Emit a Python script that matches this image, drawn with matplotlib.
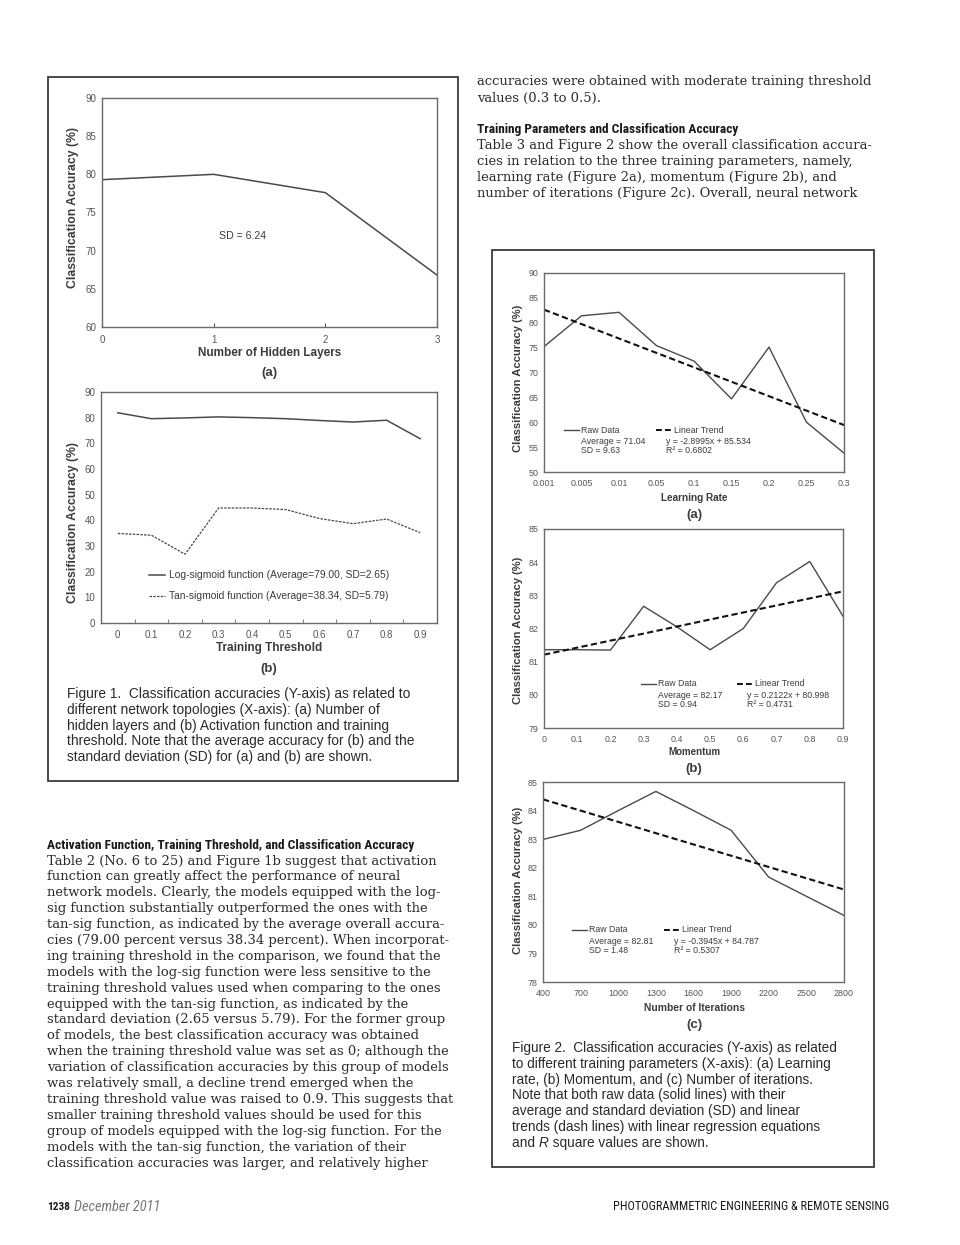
import numpy as np
import matplotlib
matplotlib.use("Agg")
import matplotlib.pyplot as plt
from matplotlib import font_manager
from matplotlib.lines import Line2D
from matplotlib.patches import Rectangle

W, H = 960, 1245

# ---- Figure 1a: hidden layers ----
hidden_layers = [0, 1, 2, 3]
hidden_acc = [79.3, 80.0, 77.6, 66.8]
hidden_sd = 6.24

# ---- Figure 1b: activation function / training threshold ----
thresholds = ["0", "0.1", "0.2", "0.3", "0.4", "0.5", "0.6", "0.7", "0.8", "0.9"]
logsig_acc = [81.9, 79.6, 79.9, 80.3, 80.0, 79.6, 78.9, 78.3, 79.0, 71.8]
tansig_acc = [34.9, 34.2, 26.8, 44.8, 44.8, 44.2, 40.7, 38.7, 40.5, 35.2]
logsig_stats = (79.00, 2.65)
tansig_stats = (38.34, 5.79)

# ---- Figure 2a: learning rate ----
learning_rates = ["0.001", "0.005", "0.01", "0.05", "0.1", "0.15", "0.2", "0.25", "0.3"]
lr_acc = [75.2, 81.4, 82.1, 75.4, 72.3, 64.7, 75.1, 60.0, 53.8]
lr_stats = (71.04, 9.63)
lr_fit = (-2.8995, 85.534, 0.6802)

# ---- Figure 2b: momentum ----
momentum = [0, 0.1, 0.2, 0.3, 0.4, 0.5, 0.6, 0.7, 0.8, 0.9]
mom_acc = [81.36, 81.36, 81.35, 82.67, 82.05, 81.36, 82.0, 83.38, 84.02, 82.37]
mom_stats = (82.17, 0.94)
mom_fit = (0.2122, 80.998, 0.4731)

# ---- Figure 2c: number of iterations ----
iterations = ["400", "700", "1000", "1300", "1600", "1900", "2200", "2500", "2800"]
iter_acc = [82.99, 83.31, 84.0, 84.67, 84.0, 83.31, 81.67, 81.0, 80.33]
iter_stats = (82.81, 1.48)
iter_fit = (-0.3945, 84.787, 0.5307)

# ---- page text ----
right_top_lines = [
    "accuracies were obtained with moderate training threshold",
    "values (0.3 to 0.5).",
]
right_heading = "Training Parameters and Classification Accuracy"
right_body_lines = [
    "Table 3 and Figure 2 show the overall classification accura-",
    "cies in relation to the three training parameters, namely,",
    "learning rate (Figure 2a), momentum (Figure 2b), and",
    "number of iterations (Figure 2c). Overall, neural network",
]
left_heading = "Activation Function, Training Threshold, and Classification Accuracy"
left_body_lines = [
    "Table 2 (No. 6 to 25) and Figure 1b suggest that activation",
    "function can greatly affect the performance of neural",
    "network models. Clearly, the models equipped with the log-",
    "sig function substantially outperformed the ones with the",
    "tan-sig function, as indicated by the average overall accura-",
    "cies (79.00 percent versus 38.34 percent). When incorporat-",
    "ing training threshold in the comparison, we found that the",
    "models with the log-sig function were less sensitive to the",
    "training threshold values used when comparing to the ones",
    "equipped with the tan-sig function, as indicated by the",
    "standard deviation (2.65 versus 5.79). For the former group",
    "of models, the best classification accuracy was obtained",
    "when the training threshold value was set as 0; although the",
    "variation of classification accuracies by this group of models",
    "was relatively small, a decline trend emerged when the",
    "training threshold value was raised to 0.9. This suggests that",
    "smaller training threshold values should be used for this",
    "group of models equipped with the log-sig function. For the",
    "models with the tan-sig function, the variation of their",
    "classification accuracies was larger, and relatively higher",
]
fig1_caption = [
    "Figure 1.  Classification accuracies (Y-axis) as related to",
    "different network topologies (X-axis): (a) Number of",
    "hidden layers and (b) Activation function and training",
    "threshold. Note that the average accuracy for (b) and the",
    "standard deviation (SD) for (a) and (b) are shown.",
]
fig2_caption = [
    "Figure 2.  Classification accuracies (Y-axis) as related",
    "to different training parameters (X-axis): (a) Learning",
    "rate, (b) Momentum, and (c) Number of iterations.",
    "Note that both raw data (solid lines) with their",
    "average and standard deviation (SD) and linear",
    "trends (dash lines) with linear regression equations",
]

SANS = "Liberation Sans"
SERIF = "DejaVu Serif"
names = {f.name for f in font_manager.fontManager.ttflist}
NARROW = "Liberation Sans Narrow" if "Liberation Sans Narrow" in names else "Roboto Condensed" if "Roboto Condensed" in names else SANS

plt.rcParams["font.family"] = [SANS, "DejaVu Sans"]

fig = plt.figure(figsize=(W / 100, H / 100), dpi=100)
fig.patch.set_facecolor("white")
renderer = fig.canvas.get_renderer()


def text_width(s, **kw):
    kw.pop("rotation", None)
    t = fig.text(0, 0, s, **kw)
    w = t.get_window_extent(renderer).width
    t.remove()
    return w


def put(x, y, s, size=None, width=None, ha="left", va="center", **kw):
    """Place text at page pixel position; optionally fit it to a width."""
    if width is not None:
        size = 10 * width / text_width(s, fontsize=10, **kw)
    return fig.text(x / W, 1 - y / H, s, fontsize=size, ha=ha, va=va, **kw)


def px_axes(x0, y0, x1, y1):
    return fig.add_axes([x0 / W, 1 - y1 / H, (x1 - x0) / W, (y1 - y0) / H])


def seg(x0, x1, y, **kw):
    fig.add_artist(Line2D([x0 / W, x1 / W], [1 - y / H] * 2,
                          transform=fig.transFigure, **kw))


def frame(x0, y0, x1, y1):
    fig.add_artist(Rectangle((x0 / W, 1 - y1 / H), (x1 - x0) / W, (y1 - y0) / H,
                             transform=fig.transFigure, fill=False,
                             edgecolor="#3a3a3a", linewidth=1.3))


def style_axes(ax, tick_size=6.4):
    for sp in ax.spines.values():
        sp.set_color("#6a6a6a")
        sp.set_linewidth(1.0)
    ax.tick_params(axis="both", labelsize=tick_size, colors="#555555", labelcolor="#555555")
    ax.tick_params(axis="y", length=0, pad=4)
    ax.tick_params(axis="x", direction="in", length=3, pad=6)


TXT = "#2a2a2a"
CH = "#3c3c3c"
LINE = "#4a4a4a"

# ================= Page frames =================
frame(48, 77, 458, 781)
frame(492, 250, 874, 1167)

# ================= Figure 1a =================
ax = px_axes(102, 98, 437, 327)
ax.plot(hidden_layers, hidden_acc, color=LINE, lw=1.1)
ax.set_xlim(0, 3)
ax.set_ylim(60, 90)
ax.set_yticks(np.arange(60, 91, 5))
ax.set_xticks(hidden_layers)
style_axes(ax, 7)
put(219, 236, f"SD = {hidden_sd:.2f}", width=47, color=CH)
put(73, 208, "Classification Accuracy (%)", width=160, rotation=90, ha="center",
    fontweight="bold", color=CH)
put(270, 353, "Number of Hidden Layers", width=144, ha="center", fontweight="bold", color=CH)
put(269, 373, "(a)", size=9.5, ha="center", fontweight="bold", color=CH)

# ================= Figure 1b =================
ax = px_axes(101, 392, 437, 623)
xb = np.arange(len(thresholds))
ax.plot(xb, logsig_acc, color=LINE, lw=1.1)
ax.plot(xb, tansig_acc, color=LINE, lw=0.9, linestyle=(0, (2, 1)))
ax.set_xlim(-0.5, len(thresholds) - 0.5)
ax.set_ylim(0, 90)
ax.set_yticks(np.arange(0, 91, 10))
ax.set_xticks(xb)
ax.set_xticklabels(thresholds)
ax.set_xticks(xb[:-1] + 0.5, minor=True)
style_axes(ax, 7)
ax.tick_params(axis="x", which="major", length=0, pad=5)
ax.tick_params(axis="x", which="minor", direction="in", length=3, color="#6a6a6a")
seg(149, 165, 575, color=LINE, lw=1.1)
put(169, 575, "Log-sigmoid function (Average=%.2f, SD=%.2f)" % logsig_stats,
    width=221, color=CH)
seg(149, 165, 596, color=LINE, lw=0.9, linestyle=(0, (2, 1)))
put(169, 596, "Tan-sigmoid function (Average=%.2f, SD=%.2f)" % tansig_stats,
    width=221, color=CH)
put(73, 522, "Classification Accuracy (%)", width=160, rotation=90, ha="center",
    fontweight="bold", color=CH)
put(269, 648, "Training Threshold", width=106, ha="center", fontweight="bold", color=CH)
put(269, 669, "(b)", size=9.5, ha="center", fontweight="bold", color=CH)

# ================= Figure 1 caption =================
cap_size = 0.96 * 10 * 357 / text_width(fig1_caption[0], fontsize=10)
for i, line in enumerate(fig1_caption):
    put(67, 694 + 15.8 * i, line, size=cap_size, color=TXT)


# ================= Figure 2 panels =================
def trend_panel(box, xs, labels, acc, stats, fit, ylim, ystep, xlim,
                legend_y, solid_x, dash_x, ylab_y, xlab, xlab_y, xlab_w, tag):
    ax = px_axes(*box)
    idx = np.arange(1, len(acc) + 1)
    slope, intercept, r2 = fit
    ax.plot(xs, acc, color=LINE, lw=1.0)
    ax.plot(xs, slope * idx + intercept, color="#111111", lw=1.5,
            linestyle=(0, (3, 1.6)))
    ax.set_xlim(*xlim)
    ax.set_ylim(*ylim)
    ax.set_yticks(np.arange(ylim[0], ylim[1] + 0.01, ystep))
    ax.set_xticks(xs)
    ax.set_xticklabels(labels)
    style_axes(ax)
    ax.tick_params(axis="x", length=0, pad=5)
    # legend block
    seg(solid_x, solid_x + 15, legend_y, color=LINE, lw=1.0)
    put(solid_x + 17, legend_y, "Raw Data", size=6.3, color=CH)
    put(solid_x + 17, legend_y + 11.5, "Average = %.2f" % stats[0], size=6.3, color=CH)
    put(solid_x + 17, legend_y + 20.5, "SD = %.2f" % stats[1], size=6.3, color=CH)
    seg(dash_x, dash_x + 16, legend_y, color="#111111", lw=1.4, linestyle=(0, (3, 1.6)))
    put(dash_x + 18, legend_y, "Linear Trend", size=6.3, color=CH)
    sign = "-" if slope < 0 else ""
    put(dash_x + 10, legend_y + 11.5, "y = %s%.4fx + %.3f" % (sign, abs(slope), intercept),
        size=6.3, color=CH)
    put(dash_x + 10, legend_y + 20.5, "R² = %.4f" % r2, size=6.3, color=CH)
    put(518, ylab_y, "Classification Accuracy (%)", width=147, rotation=90, ha="center",
        fontweight="bold", color=CH)
    put(694, xlab_y, xlab, width=xlab_w, ha="center", fontweight="bold", color=CH)
    put(694, xlab_y + 17, tag, size=9.5, ha="center", fontweight="bold", color=CH)
    return ax


trend_panel((544, 273, 844, 472), np.arange(len(learning_rates)), learning_rates,
            lr_acc, lr_stats, lr_fit, (50, 90), 5, (0, len(learning_rates) - 1),
            430, 564, 656, 378, "Learning Rate", 498, 67, "(a)")
trend_panel((544, 529, 843, 728), momentum, ["0" if m == 0 else "%g" % m for m in momentum],
            mom_acc, mom_stats, mom_fit, (79, 85), 1, (0, 0.9),
            684, 641, 737, 630, "Momentum", 752, 52, "(b)")
trend_panel((543, 782, 844, 982), np.arange(len(iterations)), iterations,
            iter_acc, iter_stats, iter_fit, (78, 85), 1, (0, len(iterations) - 1),
            930, 572, 664, 880, "Number of Iterations", 1008, 100, "(c)")

# ================= Figure 2 caption =================
cap2_size = 0.96 * 10 * 340 / text_width(fig2_caption[0], fontsize=10)
for i, line in enumerate(fig2_caption):
    put(512, 1048 + 15.8 * i, line, size=cap2_size, color=TXT)
last_y = 1048 + 15.8 * len(fig2_caption)
x = 512
for piece, style in [("and ", "normal"), ("R", "italic"), (" square values are shown.", "normal")]:
    put(x, last_y, piece, size=cap2_size, style=style, color=TXT)
    x += text_width(piece, fontsize=cap2_size, style=style)

# ================= Body text =================
body_size = 10 * 391 / text_width(left_body_lines[0], fontsize=10, family=SERIF)
for i, line in enumerate(right_top_lines):
    put(477, 82 + 16 * i, line, size=body_size, family=SERIF, color=TXT)
put(477, 130, right_heading, width=262, family=NARROW, fontweight="bold", color="#1a1a1a")
for i, line in enumerate(right_body_lines):
    put(477, 146 + 16 * i, line, size=body_size, family=SERIF, color=TXT)

put(47, 845, left_heading, width=369, family=NARROW, fontweight="bold", color="#1a1a1a")
for i, line in enumerate(left_body_lines):
    put(47, 861 + 15.9 * i, line, size=body_size, family=SERIF, color=TXT)

# ================= Footer =================
put(47, 1207, "1238", width=23, family=NARROW, fontweight="bold", color="#1a1a1a")
put(74, 1207, "December 2011", width=86, family=NARROW, style="italic", color="#777777")
put(889, 1207, "PHOTOGRAMMETRIC ENGINEERING & REMOTE SENSING", width=276, ha="right",
    family=NARROW, color="#1a1a1a")

fig.savefig("out.png", dpi=100, facecolor="white")
